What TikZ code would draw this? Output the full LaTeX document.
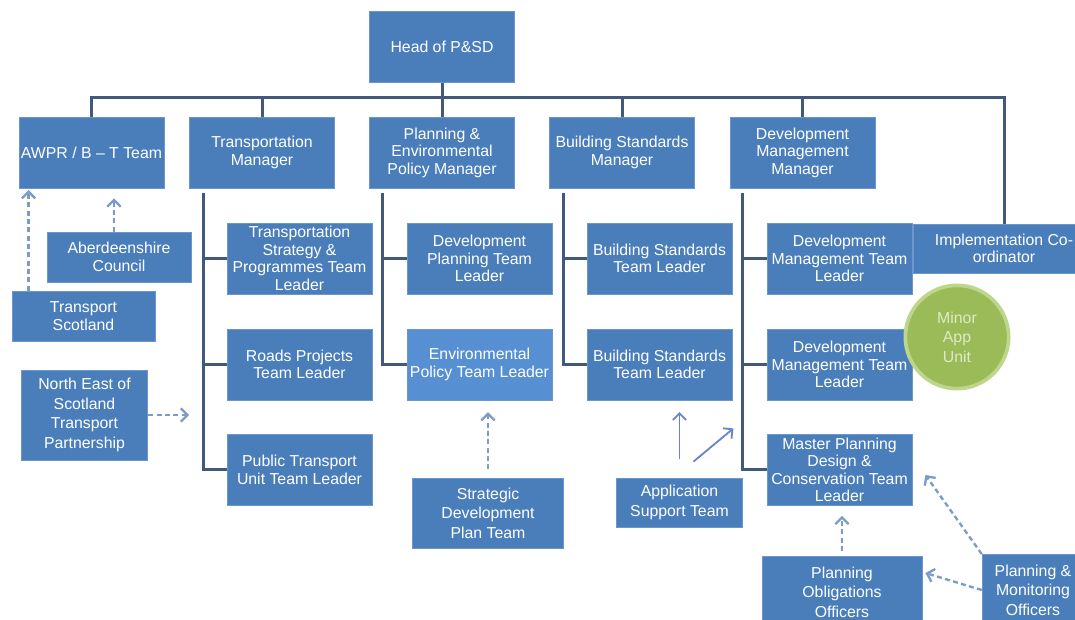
\documentclass[tikz,border=0pt]{standalone}
\usepackage{fontspec}
\setmainfont{Liberation Sans}
\usetikzlibrary{arrows.meta,calc}

\definecolor{boxblue}{HTML}{4A7EBB}
\definecolor{boxedge}{HTML}{6B97CE}
\definecolor{lightbox}{HTML}{5690D3}
\definecolor{linegrey}{HTML}{42597A}
\definecolor{dashblue}{HTML}{7C9BC6}
\definecolor{minorgreen}{HTML}{9BBB59}
\definecolor{minoredge}{HTML}{BDD68C}
\definecolor{minortext}{HTML}{DDEBC6}

\begin{document}
\begin{tikzpicture}[x=0.6pt,y=-0.6pt,
  box/.style={rectangle, fill=boxblue, draw=boxedge, line width=0.5pt, text=white,
    align=center, font=\fontsize{9.5}{10.5}\selectfont,
    minimum width=87pt, minimum height=42.6pt, inner xsep=1pt, inner ysep=0pt},
  loose/.style={font=\fontsize{9.5}{11.7}\selectfont},
  orgline/.style={draw=linegrey, line width=1.8pt},
  dasharrow/.style={draw=dashblue, line width=1.4pt, dash pattern=on 3pt off 2pt,
    -{Straight Barb[length=4pt,width=8pt]}, shorten >=6pt},
  thinarrow/.style={draw=dashblue!85!blue, line width=1.1pt,
    -{Straight Barb[length=4pt,width=8pt]}}
]
\useasboundingbox (0,0) rectangle (1075,620);

\node[box] (head) at (442,47) {Head of P\&SD};

% managers
\node[box] (awpr) at (91.5,152.5) {AWPR / B – T Team};
\node[box] (tman) at (262,152.5) {Transportation\\Manager};
\node[box] (pman) at (442,152.5) {Planning \&\\Environmental\\Policy Manager};
\node[box] (bman) at (622,152.5) {Building Standards\\Manager};
\node[box] (dman) at (802.5,152.5) {Development\\Management\\Manager};
\node[box, minimum width=109pt, minimum height=29.4pt] (impl) at (1004,248.5) {Implementation Co-\\ordinator};

% team leaders
\node[box] (tsp) at (299.5,258.5) {Transportation\\Strategy \&\\Programmes Team\\Leader};
\node[box] (dptl) at (479.5,258.5) {Development\\Planning Team\\Leader};
\node[box] (bstl) at (659.5,258.5) {Building Standards\\Team Leader};
\node[box] (dmtl) at (839.5,258.5) {Development\\Management Team\\Leader};
\node[box] (rptl) at (299.5,364.5) {Roads Projects\\Team Leader};
\node[box, fill=lightbox] (eptl) at (479.5,364.5) {Environmental\\Policy Team Leader};
\node[box] (bstlb) at (659.5,364.5) {Building Standards\\Team Leader};
\node[box] (dmtlb) at (839.5,364.5) {Development\\Management Team\\Leader};
\node[box] (ptul) at (299.5,470) {Public Transport\\Unit Team Leader};
\node[box] (mpdc) at (839.5,470) {Master Planning\\Design \&\\Conservation Team\\Leader};

\node[circle, fill=minorgreen, draw=minoredge, line width=2.2pt, minimum size=62pt,
  text=minortext, align=center, font=\fontsize{9.5}{11.7}\selectfont, inner sep=0pt]
  (minor) at (957,337) {Minor\\App\\Unit};

% partners and officers
\node[box, minimum width=86.4pt, minimum height=30pt] (abc) at (119,257) {Aberdeenshire\\Council};
\node[box, minimum width=85.8pt, minimum height=30pt] (tsc) at (83.5,316) {Transport\\Scotland};
\node[box, loose, minimum width=76pt, minimum height=54pt] (nest) at (84.5,415) {North East of\\Scotland\\Transport\\Partnership};
\node[box, loose, minimum width=91pt, minimum height=42pt] (sdpt) at (488,513) {Strategic\\Development\\Plan Team};
\node[box, loose, minimum width=76pt, minimum height=29.4pt] (ast) at (679.5,502.5) {Application\\Support Team};
\node[box, loose, minimum width=96pt] (poo) at (842,592) {Planning\\Obligations\\Officers};
\node[box, loose, minimum width=61pt] (pmo) at (1033,590) {Planning \&\\Monitoring\\Officers};

% reporting lines
\coordinate (bus) at (0,98);
\draw[orgline] (head.south) -- (head.south |- bus);
\draw[orgline] (awpr.north) |- (bus -| impl.north) -- (impl.north);
\foreach \m in {tman,pman,bman,dman}
  \draw[orgline] (\m.north) -- (\m.north |- bus);

\coordinate (ttop) at ($(tman.south west)+(14,5)$);
\coordinate (ptop) at ($(pman.south west)+(13,5)$);
\coordinate (btop) at ($(bman.south west)+(14,5)$);
\coordinate (dtop) at ($(dman.south west)+(13,5)$);
\draw[orgline] (ttop) |- (ptul.west);
\draw[orgline] (ptop) |- (eptl.west);
\draw[orgline] (btop) |- (bstlb.west);
\draw[orgline] (dtop) |- (mpdc.west);
\foreach \t/\k in {tsp/ttop,rptl/ttop,dptl/ptop,bstl/btop,dmtl/dtop,dmtlb/dtop}
  \draw[orgline] (\t.west) -- (\t.west -| \k);

% dashed links
\coordinate (abcup) at ($(abc.north)+(-5,0)$);
\coordinate (tscup) at ($(tsc.north west)+(17,0)$);
\draw[dasharrow] (abcup) -- (abcup |- awpr.south);
\draw[dasharrow, shorten >=1pt] (tscup) -- (tscup |- awpr.south);
\draw[dasharrow, shorten >=0pt] (nest.east) -- (nest.east -| tman.west);
\draw[dasharrow, shorten <=5pt, shorten >=7pt] (sdpt.north) -- (sdpt.north |- eptl.south);
\draw[thinarrow, shorten <=11pt, shorten >=7pt] (ast.north) -- (ast.north |- bstlb.south);
\draw[thinarrow] ($(ast.north)+(14,-16)$) -- ($(bstlb.south east)+(1,28)$);
\draw[dasharrow, shorten <=3pt] (poo.north) -- (poo.north |- mpdc.south);
\draw[dasharrow, shorten >=0pt] (pmo.west) -- ($(poo.east)+(3,-19)$);
\draw[dasharrow, shorten >=0pt] (pmo.north west) -- ($(mpdc.east)+(13,5)$);

\end{tikzpicture}
\end{document}
